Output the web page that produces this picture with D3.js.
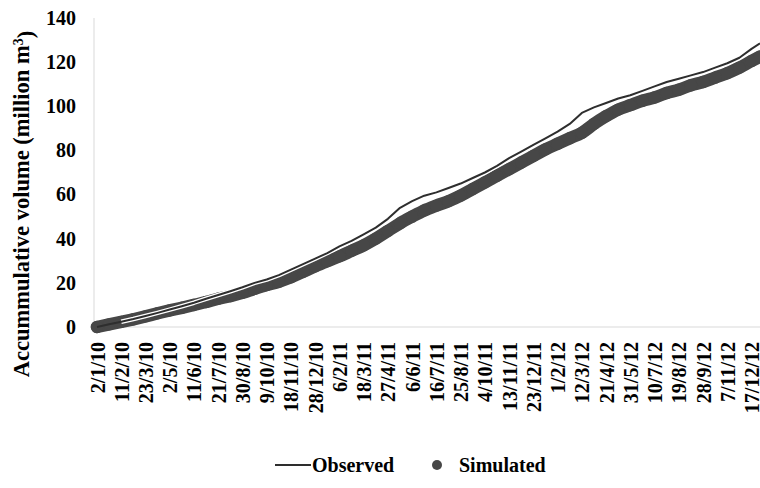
<!DOCTYPE html>
<html>
<head>
<meta charset="utf-8">
<script src="https://cdn.jsdelivr.net/npm/d3@7"></script>
<style>
  body { margin: 0; background: #fff; }
  text { font-family: "Liberation Serif", "Times New Roman", serif; font-weight: bold; fill: #000; }
</style>
</head>
<body>
<div id="chart"></div>
<script>
// sample dates (every 20 days) and cumulative volume, million m3
var dates = ["2/1/10","22/1/10","11/2/10","3/3/10","23/3/10","12/4/10","2/5/10","22/5/10","11/6/10","1/7/10",
  "21/7/10","10/8/10","30/8/10","19/9/10","9/10/10","29/10/10","18/11/10","8/12/10","28/12/10","17/1/11",
  "6/2/11","26/2/11","18/3/11","7/4/11","27/4/11","17/5/11","6/6/11","26/6/11","16/7/11","5/8/11",
  "25/8/11","14/9/11","4/10/11","24/10/11","13/11/11","3/12/11","23/12/11","12/1/12","1/2/12","21/2/12",
  "12/3/12","1/4/12","21/4/12","11/5/12","31/5/12","20/6/12","10/7/12","30/7/12","19/8/12","8/9/12",
  "28/9/12","18/10/12","7/11/12","27/11/12","17/12/12","31/12/12"];

var observed = [0,1.2,2.4,3.6,5,6.4,7.9,9.4,11,12.8,
  14.5,16.2,18,20,21.5,23.5,26,28.5,31,33.5,
  36.5,39,42,45,49,54,57,59.5,61,63,
  65,67.5,70,73,76.5,79.5,82.5,85.5,88.5,92,
  97,99.5,101.5,103.5,105,107,109,111,112.5,114,
  115.5,117.5,119.5,122,126,128.5];

var simulated = [0,1.2,2.3,3.5,4.8,6.2,7.5,8.7,10,11.3,
  12.8,14,15.5,17.3,19,20.5,22.5,25,27.5,29.8,
  32,34.5,37,40,43.5,47,50,52.8,55,57,
  59.5,62.5,65.5,68.5,71.5,74.5,77.5,80.5,83,85.5,
  88,92,95.5,98.5,100.5,102.5,104,106,107.5,109.5,
  111,113,115,117.5,120.5,122.5];

var tickLabels = ["2/1/10","11/2/10","23/3/10","2/5/10","11/6/10","21/7/10","30/8/10","9/10/10","18/11/10","28/12/10",
  "6/2/11","18/3/11","27/4/11","6/6/11","16/7/11","25/8/11","4/10/11","13/11/11","23/12/11","1/2/12",
  "12/3/12","21/4/12","31/5/12","10/7/12","19/8/12","28/9/12","7/11/12","17/12/12"];

var yTicks = [0,20,40,60,80,100,120,140];

var width = 760, height = 488;
var parse = d3.timeParse("%d/%m/%y");

var data = dates.map(function(d, i) {
  return { date: parse(d), obs: observed[i], sim: simulated[i] };
});

var svg = d3.select("#chart").append("svg")
  .attr("width", width)
  .attr("height", height);

var x = d3.scaleTime()
  .domain([parse(dates[0]), parse(dates[dates.length - 1])])
  .range([97, 760]);

var y = d3.scaleLinear()
  .domain([0, 140])
  .range([327, 18]);

// axis lines
svg.append("line")
  .attr("x1", 94).attr("x2", 94)
  .attr("y1", y(140)).attr("y2", y(0))
  .style("stroke", "#d9d9d9").style("stroke-width", 1);
svg.append("line")
  .attr("x1", 94).attr("x2", 760)
  .attr("y1", y(0)).attr("y2", y(0))
  .style("stroke", "#d9d9d9").style("stroke-width", 1);

// y axis
var gy = svg.append("g")
  .attr("transform", "translate(94,0)")
  .call(d3.axisLeft(y).tickValues(yTicks).tickSize(0).tickPadding(18));
gy.select(".domain").remove();
gy.selectAll("text")
  .style("font-family", "Liberation Serif, serif")
  .style("font-weight", "bold")
  .style("font-size", "20px")
  .style("fill", "#000");

// x axis
var gx = svg.append("g")
  .attr("transform", "translate(0," + y(0) + ")")
  .call(d3.axisBottom(x)
    .tickValues(tickLabels.map(parse))
    .tickFormat(function(d, i) { return tickLabels[i]; })
    .tickSize(0));
gx.select(".domain").remove();
gx.selectAll("text")
  .attr("transform", "rotate(-90)")
  .attr("x", -15)
  .attr("y", 0)
  .attr("dy", "0.35em")
  .style("text-anchor", "end")
  .style("font-family", "Liberation Serif, serif")
  .style("font-weight", "bold")
  .style("font-size", "20px")
  .style("fill", "#000");

// y axis title
svg.append("text")
  .attr("transform", "translate(29,204) rotate(-90)")
  .style("text-anchor", "middle")
  .style("font-size", "22.5px")
  .text("Accummulative volume (million m")
  .append("tspan")
    .attr("dy", "-0.45em")
    .style("font-size", "14px")
    .text("3")
  .select(function() { return this.parentNode; })
  .append("tspan")
    .attr("dy", "0.45em")
    .text(")");

// simulated: dense dots -> thick band
var lineSim = d3.line()
  .x(function(d) { return x(d.date); })
  .y(function(d) { return y(d.sim); })
  .curve(d3.curveMonotoneX);

svg.append("path")
  .datum(data)
  .attr("d", lineSim)
  .style("fill", "none")
  .style("stroke", "#474747")
  .style("stroke-width", 12.5)
  .style("stroke-linecap", "round")
  .style("stroke-linejoin", "round");

svg.selectAll(".sim")
  .data(data)
  .enter().append("circle")
  .attr("class", "sim")
  .attr("cx", function(d) { return x(d.date); })
  .attr("cy", function(d) { return y(d.sim); })
  .attr("r", 6.2)
  .style("fill", "#474747");

// observed line with white halo
var lineObs = d3.line()
  .x(function(d) { return x(d.date); })
  .y(function(d) { return y(d.obs); });

svg.append("path")
  .datum(data.slice(2))
  .attr("d", lineObs)
  .style("fill", "none")
  .style("stroke", "#fff")
  .style("stroke-width", 4.5)
  .style("stroke-linejoin", "round");

svg.append("path")
  .datum(data)
  .attr("d", lineObs)
  .style("fill", "none")
  .style("stroke", "#2e2e2e")
  .style("stroke-width", 2)
  .style("stroke-linejoin", "round");

// legend
var lg = svg.append("g").attr("transform", "translate(0,465)");
lg.append("line")
  .attr("x1", 275).attr("x2", 311)
  .attr("y1", 0).attr("y2", 0)
  .style("stroke", "#2e2e2e").style("stroke-width", 2);
lg.append("text")
  .attr("x", 312).attr("y", 0).attr("dy", "0.35em")
  .style("font-size", "20px")
  .text("Observed");
lg.append("circle")
  .attr("cx", 437).attr("cy", 0).attr("r", 5)
  .style("fill", "#474747");
lg.append("text")
  .attr("x", 459).attr("y", 0).attr("dy", "0.35em")
  .style("font-size", "20px")
  .text("Simulated");
</script>
</body>
</html>
